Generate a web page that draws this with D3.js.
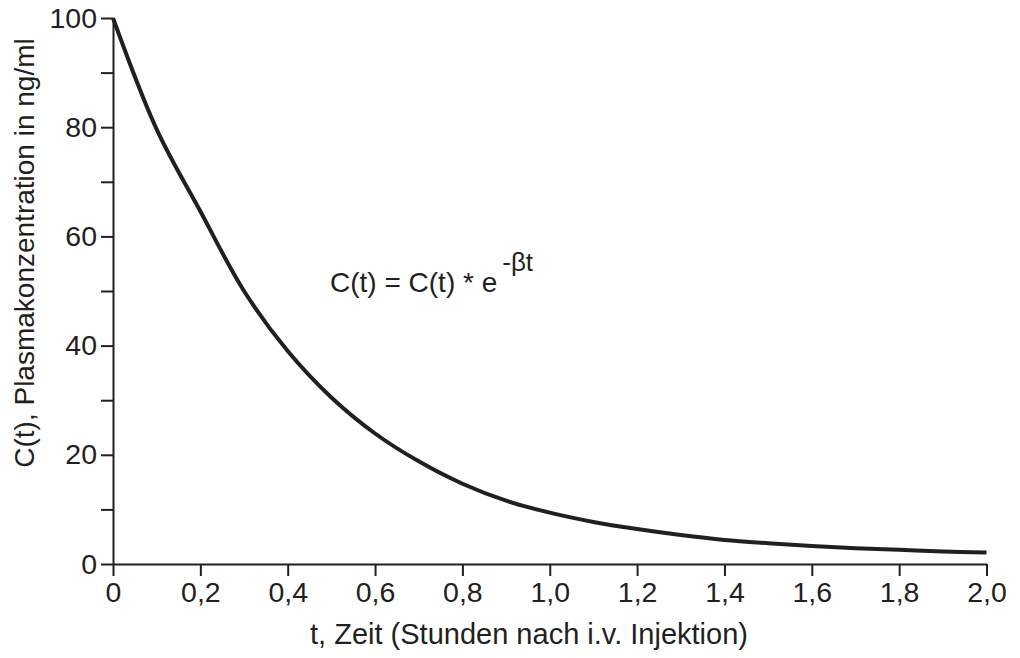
<!DOCTYPE html>
<html>
<head>
<meta charset="utf-8">
<script src="https://cdn.jsdelivr.net/npm/d3@7"></script>
<style>
  html, body { margin: 0; padding: 0; background: #fff; }
  text { font-family: "Liberation Sans", Arial, sans-serif; fill: #231f20; }
</style>
</head>
<body>
<svg id="chart" width="1020" height="658"></svg>
<script>
// Data
const timeHours = [0, 0.1, 0.2, 0.3, 0.4, 0.5, 0.6, 0.7, 0.8, 0.9, 1.0, 1.1, 1.2, 1.3, 1.4, 1.5, 1.6, 1.7, 1.8, 1.9, 2.0];
const concentration = [100, 79.6, 64.6, 50.0, 39.0, 30.5, 23.9, 18.8, 14.7, 11.6, 9.4, 7.7, 6.4, 5.3, 4.4, 3.8, 3.3, 2.9, 2.6, 2.3, 2.1];
const xTickValues = [0, 0.2, 0.4, 0.6, 0.8, 1.0, 1.2, 1.4, 1.6, 1.8, 2.0];
const xTickLabels = ["0", "0,2", "0,4", "0,6", "0,8", "1,0", "1,2", "1,4", "1,6", "1,8", "2,0"];
const yTickValues = [0, 10, 20, 30, 40, 50, 60, 70, 80, 90, 100];
const yTickLabels = ["0", "", "20", "", "40", "", "60", "", "80", "", "100"];
const xTitle = "t, Zeit (Stunden nach i.v. Injektion)";
const yTitle = "C(t), Plasmakonzentration in ng/ml";
const formulaMain = "C(t) = C(t) * e";
const formulaSup = "-βt";

const ink = "#231f20";
const font = "Liberation Sans, Arial, sans-serif";
const svg = d3.select("#chart");

const x = d3.scaleLinear().domain([0, 2]).range([113, 986.5]);
const y = d3.scaleLinear().domain([0, 100]).range([564, 18]);

// X axis
const xAxis = d3.axisBottom(x)
  .tickValues(xTickValues)
  .tickFormat((d, i) => xTickLabels[i])
  .tickSize(12).tickPadding(6).tickSizeOuter(0);
const gx = svg.append("g").attr("transform", `translate(0,${y(0)})`).call(xAxis);
gx.select(".domain").attr("stroke", ink).attr("stroke-width", 2);
gx.selectAll(".tick line").attr("stroke", ink).attr("stroke-width", 2);
gx.selectAll(".tick text").attr("font-size", 28.5).attr("fill", ink).attr("font-family", font);

// Y axis
const yAxis = d3.axisLeft(y)
  .tickValues(yTickValues)
  .tickFormat((d, i) => yTickLabels[i])
  .tickSize(12).tickPadding(4).tickSizeOuter(0);
const gy = svg.append("g").attr("transform", `translate(${x(0)},0)`).call(yAxis);
gy.select(".domain").attr("stroke", ink).attr("stroke-width", 2);
gy.selectAll(".tick line").attr("stroke", ink).attr("stroke-width", 2);
gy.selectAll(".tick text").attr("font-size", 28.5).attr("fill", ink).attr("font-family", font);

// Curve
const line = d3.line()
  .x((d, i) => x(timeHours[i]))
  .y(d => y(d))
  .curve(d3.curveCatmullRom.alpha(0.5));
svg.append("path")
  .datum(concentration)
  .attr("d", line)
  .attr("fill", "none")
  .attr("stroke", ink)
  .attr("stroke-width", 4)
  .attr("stroke-linejoin", "round");

// Axis titles
svg.append("text")
  .attr("x", 529).attr("y", 644)
  .attr("text-anchor", "middle")
  .attr("font-size", 29)
  .text(xTitle);

svg.append("text")
  .attr("transform", `translate(34,253) rotate(-90)`)
  .attr("text-anchor", "middle")
  .attr("font-size", 28)
  .text(yTitle);

// Formula annotation
const f = svg.append("text")
  .attr("x", 330).attr("y", 292)
  .attr("font-size", 28);
f.append("tspan").text(formulaMain);
f.append("tspan").attr("dx", 5).attr("dy", -21).attr("font-size", 26).text(formulaSup);
</script>
</body>
</html>
